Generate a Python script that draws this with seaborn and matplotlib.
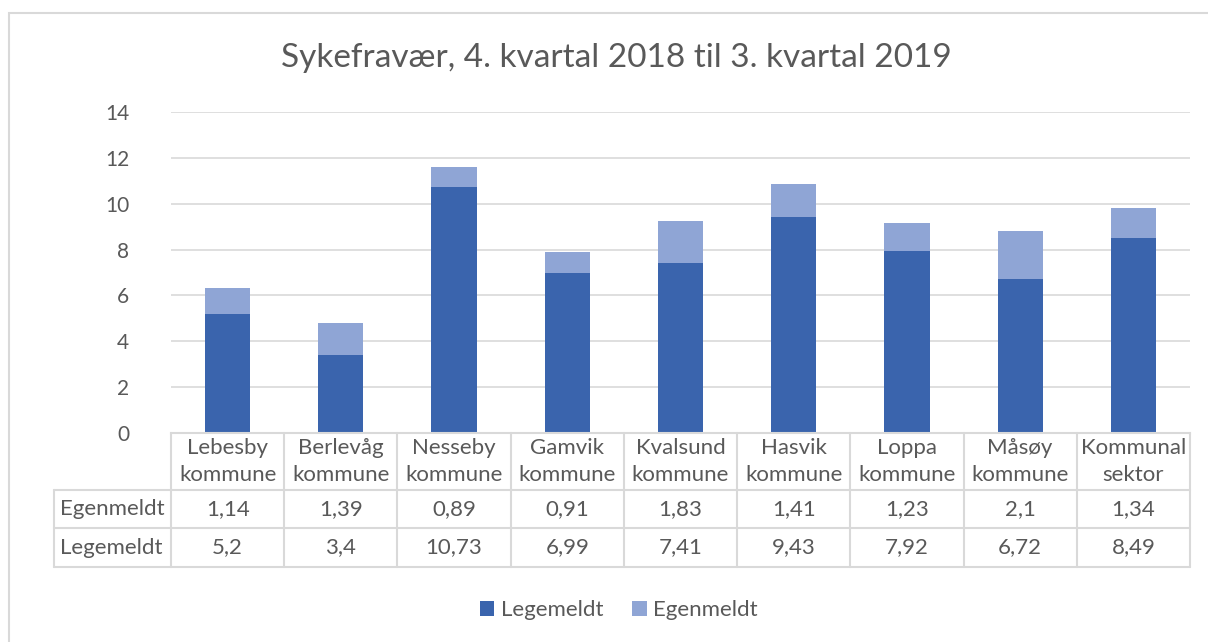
import seaborn as sns
import matplotlib.pyplot as plt
import pandas as pd

# Data
kommuner = ["Lebesby\nkommune", "Berlevåg\nkommune", "Nesseby\nkommune", "Gamvik\nkommune",
            "Kvalsund\nkommune", "Hasvik\nkommune", "Loppa\nkommune", "Måsøy\nkommune",
            "Kommunal\nsektor"]
egenmeldt = [1.14, 1.39, 0.89, 0.91, 1.83, 1.41, 1.23, 2.1, 1.34]
legemeldt = [5.2, 3.4, 10.73, 6.99, 7.41, 9.43, 7.92, 6.72, 8.49]

df = pd.DataFrame({"kommune": kommuner, "Egenmeldt": egenmeldt, "Legemeldt": legemeldt})
df["total"] = df["Egenmeldt"] + df["Legemeldt"]

dark = "#3A64AD"
light = "#8FA5D5"
grid = "#D9D9D9"
txt = "#595959"

sns.set_style("white")
plt.rcParams["font.family"] = ["Lato", "DejaVu Sans"]

W, H = 1208, 642
fig = plt.figure(figsize=(W / 100, H / 100), dpi=100)
# plot area in pixels: x 171-1190, y 112-433
ax = fig.add_axes([171 / W, 1 - 433 / H, (1190 - 171) / W, (433 - 112) / H])

# outer chart frame (cropped at right and bottom)
fig.add_artist(plt.Rectangle((9 / W, -0.1), 1.2, 1 - 13 / H + 0.1, transform=fig.transFigure,
                             fill=False, edgecolor=grid, lw=1.5))

# stacked bars: total in light, legemeldt in dark on top
sns.barplot(data=df, x="kommune", y="total", color=light, width=0.4, ax=ax,
            saturation=1, label="Egenmeldt", linewidth=0)
sns.barplot(data=df, x="kommune", y="Legemeldt", color=dark, width=0.4, ax=ax,
            saturation=1, label="Legemeldt", linewidth=0)

ax.set_xlim(-0.5, len(kommuner) - 0.5)
ax.set_ylim(0, 14)
ax.set_yticks(range(0, 15, 2))
ax.yaxis.grid(True, color=grid, lw=1.2)
ax.set_axisbelow(True)
for s in ["top", "right", "left"]:
    ax.spines[s].set_visible(False)
ax.spines["bottom"].set_color(grid)
ax.spines["bottom"].set_linewidth(1.5)
ax.tick_params(axis="y", length=0, pad=30, labelsize=15, labelcolor=txt)
ax.set_xticks([])
ax.set_xlabel("")
ax.set_ylabel("")

# data table below the axis
n = len(kommuner)
y_head = -(490 - 433) / 321
y_row1 = -(528 - 433) / 321
y_row2 = -(567 - 433) / 321
x_left = (54 - 171) / ((1190 - 171) / n) - 0.5
tr = ax.get_xaxis_transform()
lkw = dict(color=grid, lw=1.5, transform=tr, clip_on=False)
for i in range(n + 1):
    ax.plot([i - 0.5, i - 0.5], [0, y_row2], **lkw)
ax.plot([x_left, x_left], [y_head, y_row2], **lkw)
for yy in [y_head, y_row1, y_row2]:
    ax.plot([x_left, n - 0.5], [yy, yy], **lkw)

tkw = dict(transform=tr, ha="center", va="center", color=txt, fontsize=16, clip_on=False)
for i, k in enumerate(kommuner):
    ax.text(i, y_head / 2, k, linespacing=1.45, **tkw)
    ax.text(i, (y_head + y_row1) / 2, f"{egenmeldt[i]:g}".replace(".", ","), **tkw)
    ax.text(i, (y_row1 + y_row2) / 2, f"{legemeldt[i]:g}".replace(".", ","), **tkw)
ax.text(x_left + 0.05, (y_head + y_row1) / 2, "Egenmeldt", **{**tkw, "ha": "left"})
ax.text(x_left + 0.05, (y_row1 + y_row2) / 2, "Legemeldt", **{**tkw, "ha": "left"})

fig.suptitle("Sykefravær, 4. kvartal 2018 til 3. kvartal 2019", x=616 / W, y=1 - 58 / H,
             va="center", fontsize=24, color=txt)

handles, labels = ax.get_legend_handles_labels()
order = [labels.index("Legemeldt"), labels.index("Egenmeldt")]
fig.legend([handles[i] for i in order], [labels[i] for i in order], loc="center",
           bbox_to_anchor=(619 / W, 1 - 610 / H), ncol=2, frameon=False, fontsize=16,
           labelcolor=txt, handlelength=0.65, handleheight=0.65, handletextpad=0.3,
           columnspacing=1.3)
if ax.get_legend() is not None:
    ax.get_legend().remove()

fig.savefig("out.png", dpi=100, facecolor="white")
